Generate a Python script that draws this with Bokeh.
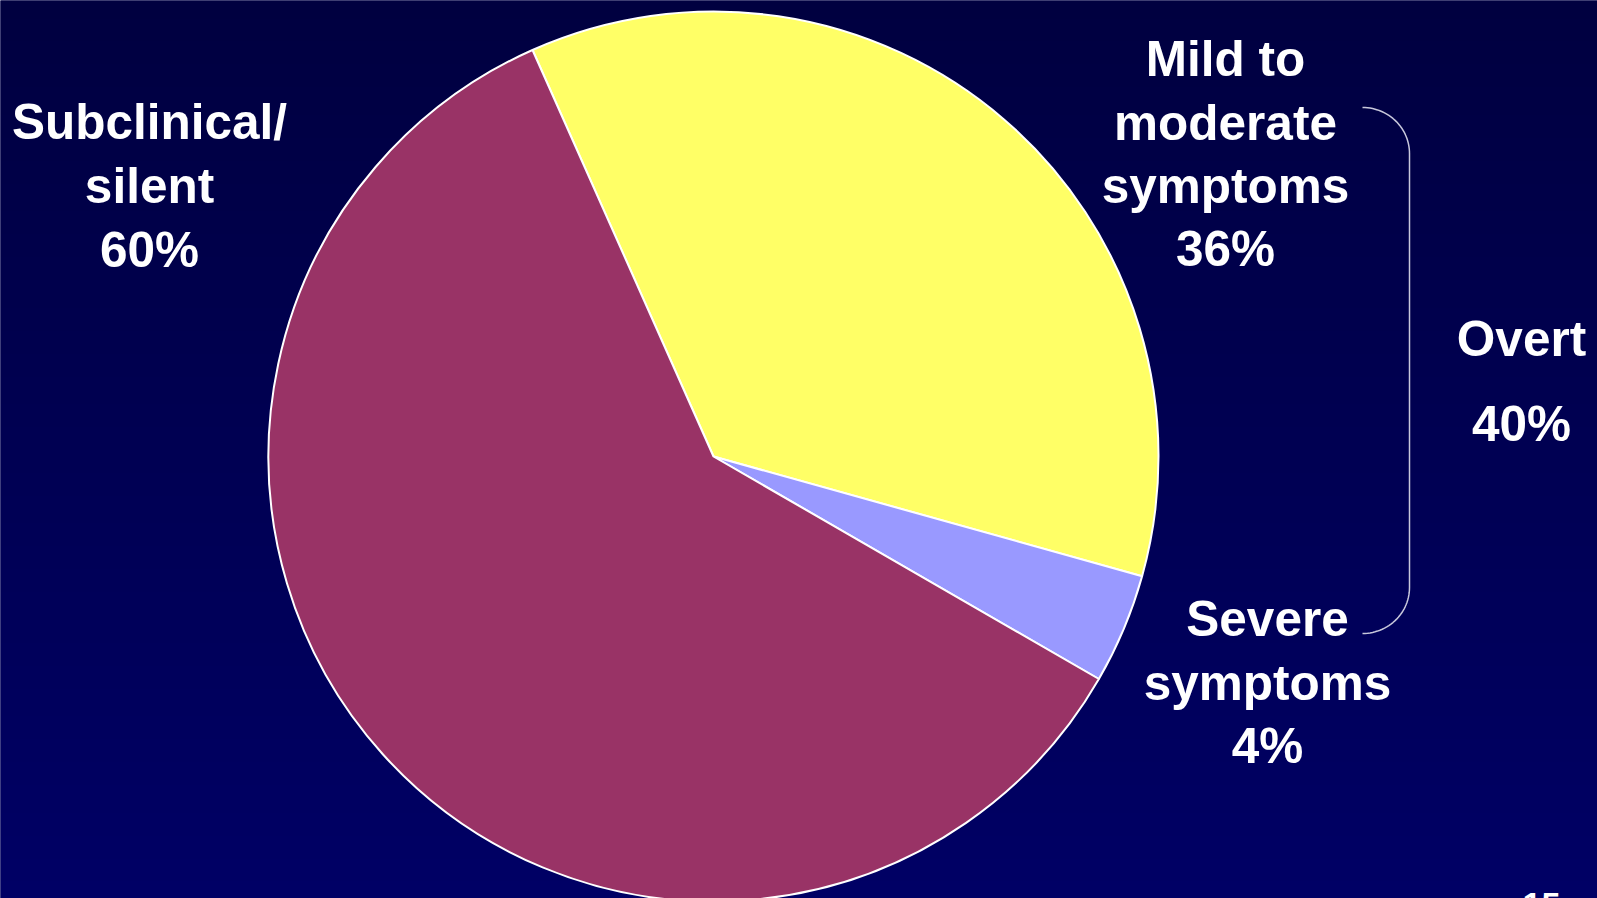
import numpy as np
from bokeh.plotting import figure
from bokeh.models import Range1d, ColumnDataSource
from bokeh.core.properties import value
from bokeh.embed import file_html
from bokeh.resources import INLINE

# ---- data ----
categories = ["Mild to moderate symptoms", "Severe symptoms", "Subclinical/silent"]
percents = [36, 4, 60]
label_words = [["Mild to", "moderate", "symptoms"], ["Severe", "symptoms"], ["Subclinical/", "silent"]]
group_name = "Overt"
group_members = [0, 1]
page_number = "15"

# ---- styling ----
colors = ["#FFFF66", "#9999FF", "#993366"]
W, H = 1597, 898  # page size (px); y is mapped so that screen rows read top-down


def Y(yref):
    return H - yref


p = figure(width=W, height=H, x_range=Range1d(0, W), y_range=Range1d(0, H),
           output_backend="svg", toolbar_location=None, min_border=0,
           x_axis_location=None, y_axis_location=None)
p.grid.visible = False
p.outline_line_color = None
p.border_fill_color = "#000052"
p.background_fill_color = "#000052"

# background gradient (dark navy at the top, brighter navy below)
rows = 200
t = np.linspace(0, 1, rows)  # 0 = bottom, 1 = top
blue = (102 - (102 - 64) * t).astype(np.uint32)
img = np.zeros((rows, 2), dtype=np.uint32)
view = img.view(dtype=np.uint8).reshape((rows, 2, 4))
view[:, :, 0] = 0
view[:, :, 1] = 0
view[:, :, 2] = blue[:, None]
view[:, :, 3] = 255
p.image_rgba(image=[img], x=-10, y=-10, dw=W + 20, dh=H + 20)

# pie
start0 = np.deg2rad(114.0)
frac = np.array(percents, dtype=float) / sum(percents)
cum = np.cumsum(frac)
ends = start0 - cum * 2 * np.pi
starts = start0 - (cum - frac) * 2 * np.pi
src = ColumnDataSource(dict(cat=categories, start=starts, end=ends, color=colors))
p.wedge(x=713, y=Y(456), radius=445, start_angle="start", end_angle="end",
        direction="clock", fill_color="color", line_color="white", line_width=2,
        source=src)

# labels
dy = -15
anchors = [(1225, [73, 137, 200, 263]), (1267, [633, 697, 760]), (149, [136, 200, 264])]
tx, ty, tt = [], [], []
for i, (cx, bases) in enumerate(anchors):
    lines = label_words[i] + [f"{percents[i]}%"]
    for line, b in zip(lines, bases):
        tx.append(cx)
        ty.append(Y(b + dy))
        tt.append(line)
group_total = sum(percents[i] for i in group_members)
for line, b in zip([group_name, f"{group_total}%"], [353, 438]):
    tx.append(1521)
    ty.append(Y(b + dy))
    tt.append(line)

p.text(x=tx, y=ty, text=tt, text_font=value("Liberation Sans"), text_font_style="bold",
       text_font_size="49.5px", text_align="center", text_baseline="alphabetic",
       text_color="white")

# page number (mostly cut off at the bottom edge)
p.text(x=[1522], y=[Y(892)], text=[page_number], text_font=value("Liberation Sans"),
       text_font_style="bold", text_font_size="34px", text_align="left",
       text_baseline="top", text_color="white")

# bracket grouping the overt categories
rx, ry = 47, 46
x_left = 1362
y_top, y_bot = 107, 633
th1 = np.linspace(np.pi / 2, 0, 30)
th2 = np.linspace(0, -np.pi / 2, 30)
bx = np.concatenate([x_left + rx * np.cos(th1), x_left + rx * np.cos(th2)])
by = np.concatenate([Y(y_top + ry) + ry * np.sin(th1), Y(y_bot - ry) + ry * np.sin(th2)])
p.line(bx, by, line_color="#C8C8DC", line_width=1.5)

open("out.html", "w").write(file_html(p, INLINE))
